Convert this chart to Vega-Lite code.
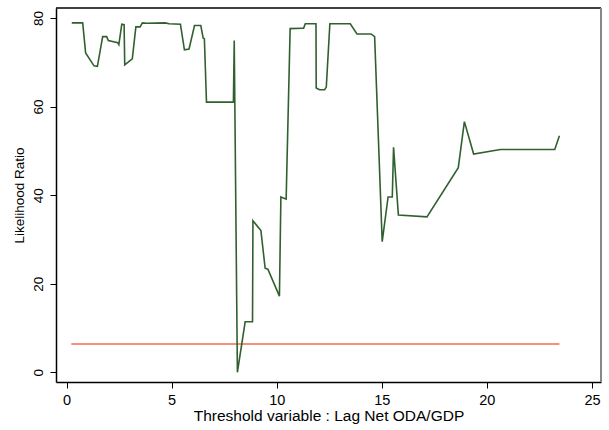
{
  "$schema": "https://vega.github.io/schema/vega-lite/v6.json",
  "width": 545,
  "height": 374,
  "autosize": {"type": "none"},
  "padding": {"left": 56, "top": 8, "right": 8, "bottom": 48},
  "background": "white",
  "config": {
    "view": {"stroke": null},
    "font": "Liberation Sans",
    "axis": {"grid": false, "domainColor": "#000", "tickColor": "#000", "labelColor": "#000", "titleColor": "#000", "labelFont": "Liberation Sans", "titleFont": "Liberation Sans", "titleFontWeight": "normal", "tickSize": 6, "domainWidth": 1.5, "tickWidth": 1}
  },
  "datasets": {
    "curve": [
      {"x": 0.25, "y": 78.9}, {"x": 0.77, "y": 78.9}, {"x": 0.91, "y": 72.1}, {"x": 1.31, "y": 69.2},
      {"x": 1.47, "y": 69.1}, {"x": 1.72, "y": 75.8}, {"x": 1.91, "y": 75.8}, {"x": 1.99, "y": 74.9},
      {"x": 2.44, "y": 74.4}, {"x": 2.49, "y": 74.0}, {"x": 2.63, "y": 78.6}, {"x": 2.74, "y": 78.5},
      {"x": 2.77, "y": 69.4}, {"x": 3.13, "y": 70.8}, {"x": 3.30, "y": 78.0}, {"x": 3.50, "y": 78.0},
      {"x": 3.61, "y": 78.9}, {"x": 3.82, "y": 78.8}, {"x": 4.69, "y": 78.9}, {"x": 4.88, "y": 78.7},
      {"x": 5.42, "y": 78.6}, {"x": 5.61, "y": 72.8}, {"x": 5.83, "y": 73.0}, {"x": 6.09, "y": 78.3},
      {"x": 6.39, "y": 78.3}, {"x": 6.50, "y": 75.5}, {"x": 6.56, "y": 75.3}, {"x": 6.66, "y": 61.0},
      {"x": 7.94, "y": 61.0}, {"x": 7.98, "y": 74.9}, {"x": 8.13, "y": 0.0}, {"x": 8.50, "y": 11.4},
      {"x": 8.85, "y": 11.4}, {"x": 8.87, "y": 34.2}, {"x": 9.25, "y": 32.0}, {"x": 9.45, "y": 23.5},
      {"x": 9.58, "y": 23.3}, {"x": 10.13, "y": 17.2}, {"x": 10.20, "y": 39.6}, {"x": 10.45, "y": 39.1},
      {"x": 10.64, "y": 77.6}, {"x": 11.20, "y": 77.7}, {"x": 11.28, "y": 77.7}, {"x": 11.36, "y": 78.7},
      {"x": 11.87, "y": 78.7}, {"x": 11.88, "y": 64.2}, {"x": 12.04, "y": 63.8}, {"x": 12.28, "y": 63.8},
      {"x": 12.36, "y": 64.4}, {"x": 12.53, "y": 78.7}, {"x": 13.50, "y": 78.7}, {"x": 13.82, "y": 76.4},
      {"x": 14.49, "y": 76.4}, {"x": 14.66, "y": 75.8}, {"x": 15.02, "y": 29.5}, {"x": 15.30, "y": 39.6},
      {"x": 15.50, "y": 39.6}, {"x": 15.56, "y": 50.8}, {"x": 15.79, "y": 35.5}, {"x": 17.15, "y": 35.1},
      {"x": 18.64, "y": 46.2}, {"x": 18.93, "y": 56.6}, {"x": 19.37, "y": 49.3}, {"x": 20.64, "y": 50.3},
      {"x": 23.23, "y": 50.3}, {"x": 23.45, "y": 53.4}
    ],
    "crit": [{"x": 0.23, "y": 6.4}, {"x": 23.45, "y": 6.4}]
  },
  "encoding": {
    "x": {"field": "x", "type": "quantitative", "title": "Threshold variable : Lag Net ODA/GDP",
      "scale": {"domain": [-0.5, 25.43], "nice": false, "zero": false},
      "axis": {"values": [0, 5, 10, 15, 20, 25], "labelFontSize": 14.5, "titleFontSize": 15.5, "labelPadding": 5, "titlePadding": 2, "labelFlush": false}},
    "y": {"field": "y", "type": "quantitative", "title": "Likelihood Ratio",
      "scale": {"domain": [-2.19, 82.26], "nice": false, "zero": false},
      "axis": {"values": [0, 20, 40, 60, 80], "labelFontSize": 13.5, "titleFontSize": 13.5, "labelAngle": 270, "labelPadding": 5, "titlePadding": 5, "labelFlush": false}}
  },
  "layer": [
    {"data": {"name": "crit"}, "mark": {"type": "line", "color": "#f26b4f", "strokeWidth": 1.6}},
    {"data": {"name": "curve"}, "mark": {"type": "line", "color": "#31602f", "strokeWidth": 1.6}},
    {"data": {"values": [{"t": 82.26}]}, "mark": {"type": "rule", "color": "#000", "strokeWidth": 1.5}, "encoding": {"y": {"field": "t", "type": "quantitative"}, "x": null}},
    {"data": {"values": [{"r": 25.43}]}, "mark": {"type": "rule", "color": "#888", "strokeWidth": 2}, "encoding": {"x": {"field": "r", "type": "quantitative"}, "y": null}}
  ]
}
